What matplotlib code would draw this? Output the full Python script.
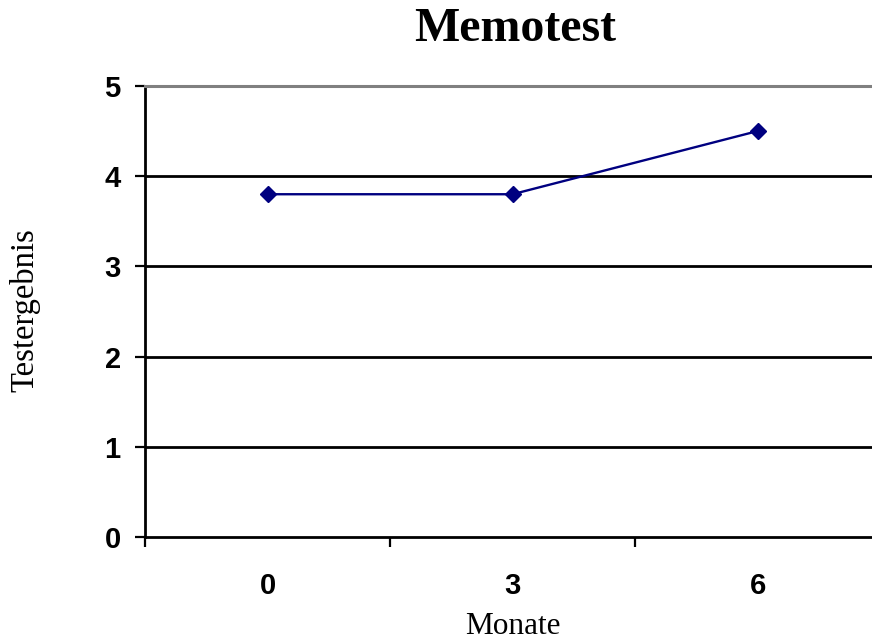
import matplotlib
matplotlib.use("Agg")
import matplotlib.pyplot as plt
import numpy as np

months = ["0", "3", "6"]
scores = [3.8, 3.8, 4.5]
y_ticks = [0, 1, 2, 3, 4, 5]

fig = plt.figure(figsize=(8.72, 6.43), dpi=100)
# plot area runs slightly past the right edge of the canvas
ax = fig.add_axes([145 / 872, 106 / 643, 735 / 872, 451 / 643])

x = np.arange(len(months)) + 0.5
ax.set_xlim(0, len(months))
ax.set_ylim(0, 5)

for v in y_ticks[1:-1]:
    ax.axhline(v, color="black", lw=2.0, zorder=1)

ax.plot(x, scores, color="#000080", lw=1.7, marker="D", markersize=8.5,
        markerfacecolor="#000080", markeredgecolor="#000080", zorder=3,
        clip_on=False)

ax.spines["right"].set_visible(False)
ax.spines["top"].set_color("#808080")
ax.spines["top"].set_linewidth(2.2)
ax.spines["left"].set_color("black")
ax.spines["left"].set_linewidth(2.0)
ax.spines["bottom"].set_color("black")
ax.spines["bottom"].set_linewidth(2.0)

ax.set_yticks(y_ticks)
ax.set_yticklabels([str(t) for t in y_ticks], fontfamily="Liberation Sans",
                   fontweight="bold", fontsize=21)
ax.tick_params(axis="y", direction="out", length=7.5, width=1.6, pad=10)

# category boundaries get tick marks, category centres get the labels
ax.set_xticks(np.arange(len(months) + 1))
ax.set_xticklabels([])
ax.set_xticks(x, minor=True)
ax.set_xticklabels(months, minor=True, fontfamily="Liberation Sans",
                   fontweight="bold", fontsize=21)
ax.tick_params(axis="x", which="major", direction="out", length=7.5, width=1.6)
ax.tick_params(axis="x", which="minor", length=0, pad=25)

ax.set_xlabel("Monate", fontfamily="Liberation Serif", fontsize=22.5,
              labelpad=9)
fig.text(25 / 872, 1 - 310 / 643, "Testergebnis", rotation=90,
         fontfamily="Liberation Serif", fontsize=23.5, ha="center", va="center")
fig.text(515 / 872, 1 - 29 / 643, "Memotest", fontfamily="Liberation Serif",
         fontweight="bold", fontsize=34.5, ha="center", va="center")

fig.savefig("out.png", dpi=100)
